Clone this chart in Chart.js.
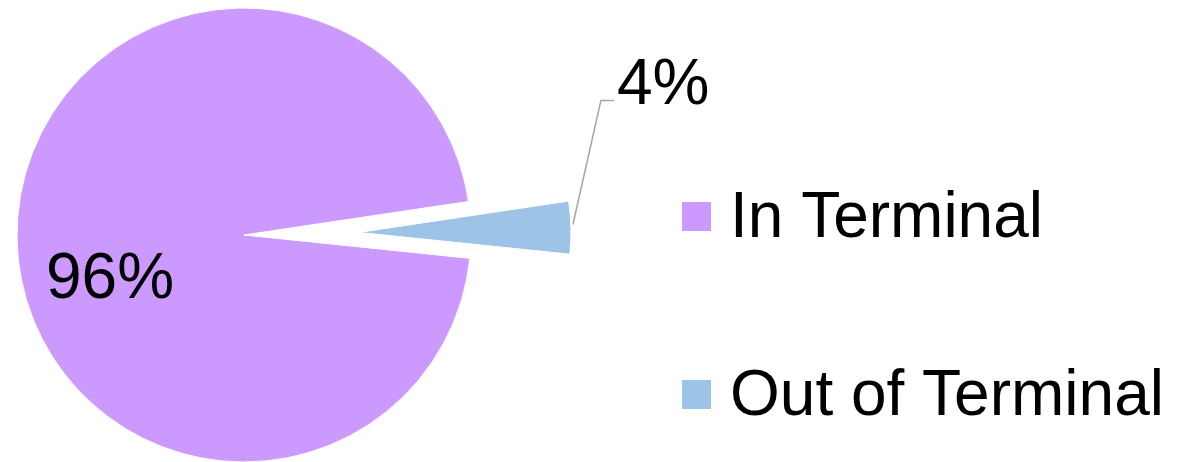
<!DOCTYPE html>
<html>
<head>
<meta charset="utf-8">
<script src="https://cdn.jsdelivr.net/npm/chart.js@4"></script>
<style>
  html, body { margin: 0; padding: 0; background: #fff; }
  #wrap { position: relative; width: 1183px; height: 462px; }
</style>
</head>
<body>
<div id="wrap"><canvas id="terminalPie" width="1183" height="462"></canvas></div>
<script>
(function() {
  'use strict';

  var categories = ['In Terminal', 'Out of Terminal'];
  var shares = [96, 4];
  var sliceColors = ['#cc99ff', '#9dc3e6'];
  var percentLabels = ['96%', '4%'];

  var FONT = '64px "Liberation Sans", Arial, sans-serif';
  var EXPLODE = 115;      // how far the small slice is pulled out of the pie
  var SMALL_RADIUS = 212; // pulled-out slice is a bit smaller than the main pie

  // pull the second slice out along its middle angle
  // (the built-in arc offset also narrows the wedge, so move the element instead)
  var explodeSlice = {
    id: 'explodeSlice',
    beforeDatasetsDraw: function(chart) {
      var area = chart.chartArea;
      var cx = (area.left + area.right) / 2;
      var cy = (area.top + area.bottom) / 2;
      var arc = chart.getDatasetMeta(0).data[1];
      var mid = (arc.startAngle + arc.endAngle) / 2;
      arc.x = cx + Math.cos(mid) * EXPLODE;
      arc.y = cy + Math.sin(mid) * EXPLODE;
      arc.outerRadius = SMALL_RADIUS;
    }
  };

  // percentage labels, leader line and the legend on the right
  var annotate = {
    id: 'annotate',
    afterDatasetsDraw: function(chart) {
      var ctx = chart.ctx;
      var arcs = chart.getDatasetMeta(0).data;
      ctx.save();
      ctx.font = FONT;
      ctx.fillStyle = '#000';
      ctx.textBaseline = 'alphabetic';
      ctx.textAlign = 'left';

      // big slice label, inside the pie
      var big = arcs[0];
      ctx.fillText(percentLabels[0], big.x - 198, big.y + 63);

      // small slice: leader line from the outer edge up to the label
      var small = arcs[1];
      var mid = (small.startAngle + small.endAngle) / 2;
      var reach = small.outerRadius + 2;
      var sx = small.x + Math.cos(mid) * reach;
      var sy = small.y + Math.sin(mid) * reach - 3;
      ctx.strokeStyle = '#a6a6a6';
      ctx.lineWidth = 1.5;
      ctx.beginPath();
      ctx.moveTo(sx, sy);
      ctx.lineTo(sx + 28, sy - 124);
      ctx.lineTo(sx + 41, sy - 124);
      ctx.stroke();
      ctx.fillText(percentLabels[1], sx + 44, sy - 121);

      // legend
      var legendTop = [202, 380];
      for (var i = 0; i < categories.length; i++) {
        ctx.fillStyle = sliceColors[i];
        ctx.fillRect(682, legendTop[i], 29, 29);
        ctx.fillStyle = '#000';
        ctx.fillText(categories[i], 730, legendTop[i] + 35);
      }
      ctx.restore();
    }
  };

  var ctx = document.getElementById('terminalPie').getContext('2d');
  new Chart(ctx, {
    type: 'pie',
    data: {
      labels: categories,
      datasets: [{
        data: shares,
        backgroundColor: sliceColors,
        borderColor: '#ffffff',
        borderWidth: 1,
        hoverOffset: 0,
        clip: false
      }]
    },
    options: {
      responsive: false,
      animation: false,
      rotation: 95.9,
      radius: 227,
      layout: { padding: { left: 0, right: 695, top: 8, bottom: 0 } },
      events: [],
      plugins: {
        legend: { display: false },
        tooltip: { enabled: false }
      }
    },
    plugins: [explodeSlice, annotate]
  });
})();
</script>
</body>
</html>
